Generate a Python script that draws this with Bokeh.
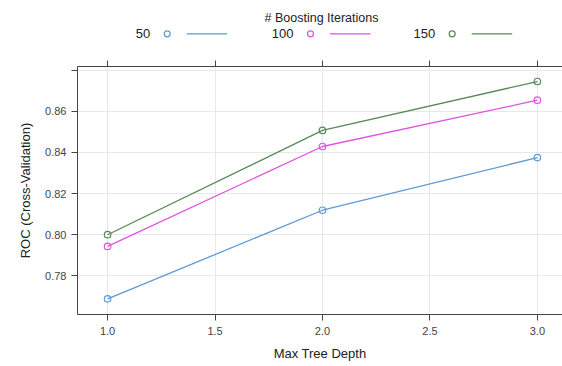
from bokeh.plotting import figure
from bokeh.models import FixedTicker, LinearAxis, Range1d, PrintfTickFormatter
from bokeh.layouts import column
from bokeh.core.properties import value
from bokeh.embed import file_html
from bokeh.resources import INLINE

# ---- data ----
depth = [1, 2, 3]
roc_50 = [0.7688, 0.8119, 0.8375]
roc_100 = [0.7943, 0.8429, 0.8654]
roc_150 = [0.8000, 0.8507, 0.8745]
series_labels = ["50", "100", "150"]
legend_title = "# Boosting Iterations"
x_ticks = [1.0, 1.5, 2.0, 2.5, 3.0]
y_ticks = [0.78, 0.80, 0.82, 0.84, 0.86, 0.88]

colors = ["#5E9AD6", "#E052E0", "#578A57"]
FONT = "Liberation Sans"
AX = "#444444"
W = 562
LEFT = 77

# ---- legend strip (frame is aligned with the main plot's frame) ----
LH = 58
leg = figure(width=W, height=LH, output_backend="svg", toolbar_location=None,
             x_range=Range1d(LEFT, W), y_range=Range1d(0, LH),
             min_border=0, outline_line_color=None)
leg.axis.visible = False
leg.grid.visible = False
leg.text(x=[321], y=[LH - 17.3], text=[legend_title], text_font=value(FONT),
         text_font_size="12.5px", text_align="center", text_baseline="middle",
         text_color="#222222")
circle_x = [166.7, 310, 451.7]
row_y = LH - 33.3
for i, (lab, c) in enumerate(zip(series_labels, colors)):
    cx = circle_x[i]
    leg.text(x=[cx - 17], y=[row_y], text=[lab], text_font=value(FONT),
             text_font_size="13px", text_align="right", text_baseline="middle",
             text_color="#222222")
    leg.scatter(x=[cx], y=[row_y], marker="circle", size=6, fill_color=None,
                line_color=c, line_width=1.2)
    leg.segment(x0=[cx + 19.5], y0=[row_y], x1=[cx + 60], y1=[row_y],
                line_color=c, line_width=1.3)

# ---- main plot ----
p = figure(width=W, height=366 - LH, output_backend="svg", toolbar_location=None,
           x_range=Range1d(0.86, 3.117), y_range=Range1d(0.7612, 0.8818),
           min_border_left=LEFT, min_border_right=0, min_border_top=8,
           min_border_bottom=52, outline_line_color=None,
           x_axis_label="Max Tree Depth", y_axis_label="ROC (Cross-Validation)")

xt = FixedTicker(ticks=x_ticks)
yt = FixedTicker(ticks=y_ticks)
p.xaxis.ticker = xt
p.yaxis.ticker = yt
p.xaxis.formatter = PrintfTickFormatter(format="%.1f")
p.yaxis.formatter = PrintfTickFormatter(format="%.2f")
p.yaxis.major_label_overrides = {0.88: ""}

for ax in (p.xaxis[0], p.yaxis[0]):
    ax.axis_line_color = AX
    ax.axis_line_width = 1
    ax.major_tick_line_color = AX
    ax.major_tick_out = 6
    ax.major_tick_in = 0
    ax.minor_tick_line_color = None
    ax.major_label_text_font = FONT
    ax.major_label_text_font_size = "11px"
    ax.major_label_text_color = "#444444"
    ax.major_label_standoff = 6
    ax.axis_label_text_font = FONT
    ax.axis_label_text_font_size = "13px"
    ax.axis_label_text_font_style = "normal"
    ax.axis_label_text_color = "#222222"
    ax.axis_label_standoff = 8
p.yaxis.major_label_standoff = 5
p.yaxis.axis_label_standoff = 9

top = LinearAxis(ticker=FixedTicker(ticks=x_ticks), axis_line_color=AX,
                 major_tick_line_color=AX, major_tick_out=6, major_tick_in=0,
                 minor_tick_line_color=None,
                 major_label_overrides={t: "" for t in x_ticks},
                 major_label_standoff=0)
p.add_layout(top, "above")

p.xgrid.ticker = xt
p.ygrid.ticker = yt
p.grid.grid_line_color = "#e8e8e8"
p.grid.grid_line_width = 1

for vals, c in zip([roc_50, roc_100, roc_150], colors):
    p.line(depth, vals, line_color=c, line_width=1.3)
    p.scatter(depth, vals, marker="circle", size=6.5, fill_color=None,
              line_color=c, line_width=1.2)

layout = column(leg, p, spacing=0)
open("out.html", "w").write(file_html(layout, INLINE))
